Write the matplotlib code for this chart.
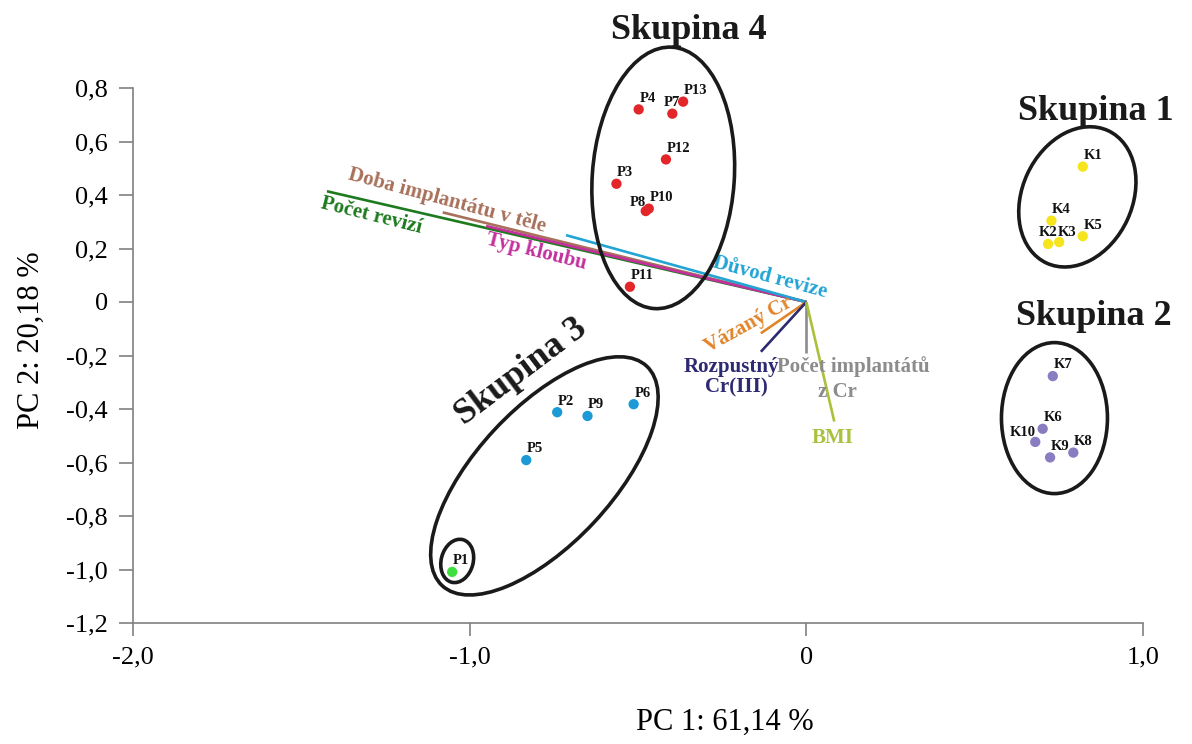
import matplotlib
matplotlib.use("Agg")
import matplotlib.pyplot as plt
from matplotlib.patches import Ellipse
from matplotlib.transforms import Affine2D

plt.rcParams['font.family'] = ['Liberation Serif', 'DejaVu Serif']

# ---------------- data ----------------
s4_labels = ['P4', 'P7', 'P13', 'P12', 'P3', 'P8', 'P10', 'P11']
s4_x = [-0.498, -0.398, -0.366, -0.417, -0.564, -0.477, -0.468, -0.524]
s4_y = [0.720, 0.704, 0.749, 0.533, 0.442, 0.340, 0.349, 0.057]

s3_labels = ['P2', 'P9', 'P6', 'P5']
s3_x = [-0.740, -0.650, -0.513, -0.832]
s3_y = [-0.412, -0.426, -0.382, -0.591]

p1_labels = ['P1']
p1_x = [-1.052]
p1_y = [-1.009]

s1_labels = ['K1', 'K2', 'K3', 'K4', 'K5']
s1_x = [0.821, 0.718, 0.751, 0.728, 0.821]
s1_y = [0.506, 0.217, 0.224, 0.304, 0.246]

s2_labels = ['K6', 'K7', 'K8', 'K9', 'K10']
s2_x = [0.702, 0.732, 0.793, 0.724, 0.680]
s2_y = [-0.474, -0.277, -0.563, -0.581, -0.523]

load_names = ['Počet revizí', 'Doba implantátu v těle', 'Typ kloubu', 'Důvod revize',
              'Vázaný Cr', 'Rozpustný Cr(III)', 'Počet implantátů z Cr', 'BMI']
load_x = [-1.424, -1.080, -0.951, -0.714, -0.135, -0.135, 0.0, 0.083]
load_y = [0.414, 0.335, 0.284, 0.250, -0.117, -0.186, -0.192, -0.447]

xticks = [-2.0, -1.0, 0.0, 1.0]
xtick_labels = ['-2,0', '-1,0', '0', '1,0']
yticks = [0.8, 0.6, 0.4, 0.2, 0.0, -0.2, -0.4, -0.6, -0.8, -1.0, -1.2]
ytick_labels = ['0,8', '0,6', '0,4', '0,2', '0', '-0,2', '-0,4', '-0,6', '-0,8', '-1,0', '-1,2']

# ---------------- styles ----------------
load_colors = ['#1e7a1e', '#a8705a', '#c2309c', '#22a4d4',
               '#e0852a', '#2e2a72', '#8c8c8c', '#a8c23c']
load_text = {
    'Počet revizí': [(-1.292, 0.321, 'Počet revizí', -14)],
    'Doba implantátu v těle': [(-1.066, 0.378, 'Doba implantátu v těle', -15)],
    'Typ kloubu': [(-0.802, 0.187, 'Typ kloubu', -14)],
    'Důvod revize': [(-0.107, 0.093, 'Důvod revize', -15)],
    'Vázaný Cr': [(-0.172, -0.086, 'Vázaný Cr', 29)],
    'Rozpustný Cr(III)': [(-0.222, -0.243, 'Rozpustný', 0), (-0.208, -0.321, 'Cr(III)', 0)],
    'Počet implantátů z Cr': [(0.140, -0.243, 'Počet implantátů', 0), (0.092, -0.336, 'z Cr', 0)],
    'BMI': [(0.077, -0.508, 'BMI', 0)],
}

W, H = 1192, 744
fig = plt.figure(figsize=(W / 100, H / 100), dpi=100)
ax = fig.add_axes([133 / W, (H - 623) / H, (1143 - 133) / W, (623 - 88) / H])
ax.set_xlim(-2.0, 1.0)
ax.set_ylim(-1.2, 0.8)

axis_col = '#808080'
for s in ['top', 'right']:
    ax.spines[s].set_visible(False)
for s in ['left', 'bottom']:
    ax.spines[s].set_color(axis_col)
    ax.spines[s].set_linewidth(1.2)
ax.set_xticks(xticks)
ax.set_xticklabels(xtick_labels)
ax.set_yticks(yticks)
ax.set_yticklabels(ytick_labels)
ax.tick_params(axis='x', direction='out', length=9, width=1.2, color=axis_col,
               labelsize=19, pad=8)
ax.tick_params(axis='y', direction='out', length=10, width=1.2, color=axis_col,
               labelsize=19, pad=8)

fig.text(725 / W, 1 - 722 / H, 'PC 1: 61,14 %', ha='center', va='center', fontsize=22)
fig.text(31 / W, 1 - 340 / H, 'PC 2: 20,18 %', ha='center', va='center',
         fontsize=22, rotation=90)

# loading vectors
for name, lx, ly, c in zip(load_names, load_x, load_y, load_colors):
    ax.plot([0, lx], [0, ly], color=c, lw=1.9, solid_capstyle='butt', zorder=2,
            clip_on=False)
    for tx, ty, txt, rot in load_text[name]:
        ax.text(tx, ty, txt, color=c, fontsize=15, fontweight='bold',
                rotation=rot, rotation_mode='anchor', ha='center', va='center',
                zorder=3, clip_on=False)

# scores
def plot_group(xs, ys, labels, color, special=None):
    special = special or {}
    ax.scatter(xs, ys, s=55, color=color, edgecolors='none', zorder=4, clip_on=False)
    for x, y, lab in zip(xs, ys, labels):
        ha, off = special.get(lab, ('left', (0.5, 8)))
        ax.annotate(lab, (x, y), xytext=off, textcoords='offset points',
                    ha=ha, va='center', fontsize=10.5, fontweight='bold',
                    color='#111111', zorder=5, annotation_clip=False)

plot_group(s4_x, s4_y, s4_labels, '#e2262a',
           {'P8': ('right', (0, 6)), 'P7': ('center', (0, 8))})
plot_group(s3_x, s3_y, s3_labels, '#1c9ad6')
plot_group(p1_x, p1_y, p1_labels, '#3ee03e')
plot_group(s1_x, s1_y, s1_labels, '#f6e41c',
           {'K2': ('center', (0, 8)), 'K3': ('left', (-1, 7))})
plot_group(s2_x, s2_y, s2_labels, '#8a7cc0',
           {'K10': ('right', (0, 7))})

# group ellipses (sizes in pixels)
p0 = ax.transData.transform((0, 0))
p1 = ax.transData.transform((1, 1))
kx, ky = p1[0] - p0[0], p1[1] - p0[1]

def px_ellipse(cx, cy, w, h, ang):
    e = Ellipse((cx * kx, cy * ky), w, h, angle=ang, fill=False,
                edgecolor='#1a1a1a', lw=2.6,
                transform=Affine2D().scale(1 / kx, 1 / ky) + ax.transData,
                zorder=3.5, clip_on=False)
    ax.add_patch(e)

px_ellipse(-0.425, 0.464, 262, 142, 86)
px_ellipse(0.805, 0.393, 146, 110, 65)
px_ellipse(0.737, -0.434, 151, 106, 90)
px_ellipse(-0.778, -0.650, 300, 136, 47)
px_ellipse(-1.037, -0.968, 44, 32, 75)

title_kw = dict(fontsize=26, fontweight='bold', color='#1a1a1a', ha='center',
                va='baseline', clip_on=False, zorder=6)
ax.text(-0.350, 0.985, 'Skupina 4', **title_kw)
ax.text(0.860, 0.680, 'Skupina 1', **title_kw)
ax.text(0.855, -0.085, 'Skupina 2', **title_kw)
ax.text(-0.832, -0.288, 'Skupina 3', rotation=37, rotation_mode='anchor', **title_kw)

fig.savefig('out.png', dpi=100)
